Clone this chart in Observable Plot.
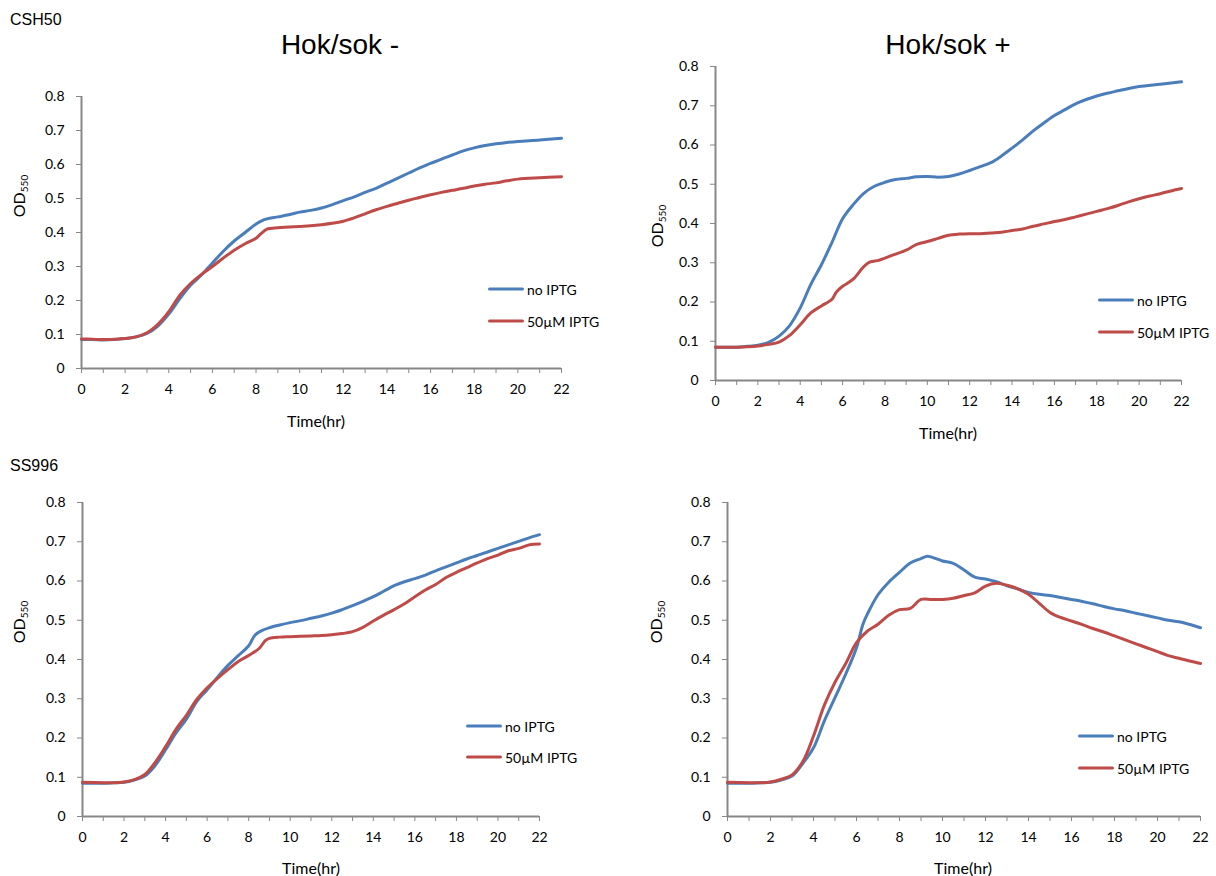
<!DOCTYPE html>
<html>
<head>
<meta charset="utf-8">
<script src="https://cdn.jsdelivr.net/npm/d3@7"></script>
<script src="https://cdn.jsdelivr.net/npm/@observablehq/plot@0.6"></script>
<style>
  body { margin: 0; background: #fff; }
  #fig { position: relative; width: 1216px; height: 876px; overflow: hidden; font-family: Lato, "Open Sans", sans-serif; color: #000; }
  .abs { position: absolute; white-space: nowrap; }
  .title { font-family: "Liberation Sans", Arial, sans-serif; font-size: 28px; transform: translate(-50%, -50%); }
  .strain { font-family: "Liberation Sans", Arial, sans-serif; font-size: 16px; transform: translateY(-50%); }
  .ylab { font-size: 16px; transform: translate(-50%, -50%) rotate(-90deg); }
  .ylab sub { font-size: 10px; vertical-align: -3px; }
  .xlab { font-size: 16px; font-weight: 400; transform: translate(-50%, -50%); }
  .leg { font-size: 14px; transform: translateY(-50%); display: flex; align-items: center; }
  .leg span.sw { display: inline-block; width: 36px; height: 3px; border-radius: 2px; margin-right: 3px; }
  svg { position: absolute; overflow: visible; }
</style>
</head>
<body>
<div id="fig"></div>
<script>
// ---------- data ----------
const seriesNames = ["no IPTG", "50\u00B5M IPTG"];
const seriesColors = ["#4A7EBB", "#BE4B48"];
const xTicks = d3.range(0, 23, 1);
const yTicks = [0, 0.1, 0.2, 0.3, 0.4, 0.5, 0.6, 0.7, 0.8];
const strainLabels = ["CSH50", "SS996"];
const panelTitles = ["Hok/sok -", "Hok/sok +"];

// CSH50, Hok/sok -
const csh50MinusNo = [[0,.085],[0.5,.085],[1,.084],[1.5,.085],[2,.088],[2.5,.093],[3,.103],[3.5,.125],[4,.16],[4.5,.205],[5,.245],[5.5,.275],[6,.31],[6.5,.345],[7,.375],[7.5,.40],[8,.425],[8.3,.436],[8.5,.44],[9,.446],[9.5,.452],[10,.46],[10.5,.465],[11,.472],[11.5,.482],[12,.494],[12.5,.505],[13,.518],[13.5,.53],[14,.545],[14.5,.56],[15,.575],[15.5,.59],[16,.603],[16.5,.616],[17,.628],[17.5,.64],[18,.649],[18.5,.656],[19,.661],[19.5,.665],[20,.668],[21,.672],[22,.677]];
const csh50MinusIptg = [[0,.087],[0.5,.086],[1,.085],[1.5,.086],[2,.088],[2.5,.093],[3,.105],[3.5,.13],[4,.167],[4.5,.215],[5,.25],[5.5,.277],[6,.30],[6.5,.325],[7,.348],[7.5,.367],[8,.383],[8.2,.395],[8.5,.41],[9,.414],[9.5,.416],[10,.418],[10.5,.42],[11,.423],[11.5,.427],[12,.433],[12.5,.443],[13,.455],[13.5,.467],[14,.477],[14.5,.486],[15,.495],[15.5,.503],[16,.511],[16.5,.518],[17,.524],[17.5,.53],[18,.537],[18.5,.542],[19,.546],[19.5,.552],[20,.557],[21,.561],[22,.564]];
// CSH50, Hok/sok +
const csh50PlusNo = [[0,.085],[1,.085],[1.5,.087],[2,.09],[2.5,.097],[3,.113],[3.5,.14],[4,.185],[4.5,.245],[5,.295],[5.5,.352],[6,.412],[6.5,.448],[7,.477],[7.5,.495],[8,.505],[8.5,.512],[9,.515],[9.5,.519],[10,.52],[10.5,.518],[11,.52],[11.5,.526],[12,.535],[12.5,.545],[13,.555],[13.5,.572],[14,.592],[14.5,.613],[15,.636],[15.5,.656],[16,.675],[16.5,.69],[17,.705],[17.5,.716],[18,.725],[18.5,.732],[19,.738],[19.5,.744],[20,.749],[21,.755],[22,.761]];
const csh50PlusIptg = [[0,.085],[1,.085],[1.5,.086],[2,.088],[2.5,.092],[3,.098],[3.5,.115],[4,.142],[4.5,.172],[5,.19],[5.5,.207],[5.7,.225],[6,.24],[6.5,.258],[7,.29],[7.3,.302],[7.7,.306],[8,.312],[8.5,.322],[9,.332],[9.5,.347],[10,.354],[10.5,.362],[11,.37],[11.5,.373],[12,.374],[12.5,.374],[13,.376],[13.5,.378],[14,.382],[14.5,.386],[15,.393],[15.5,.399],[16,.405],[16.5,.41],[17,.417],[17.5,.424],[18,.431],[18.5,.438],[19,.446],[19.5,.455],[20,.463],[20.5,.47],[21,.476],[21.5,.483],[22,.489]];
// SS996, Hok/sok -
const ss996MinusNo = [[0,.085],[1,.085],[1.5,.086],[2,.087],[2.5,.093],[3,.103],[3.5,.13],[4,.17],[4.5,.213],[5,.248],[5.5,.293],[6,.323],[6.5,.355],[7,.385],[7.5,.41],[8,.435],[8.3,.462],[8.6,.473],[9,.481],[9.5,.488],[10,.494],[10.5,.499],[11,.505],[11.5,.511],[12,.518],[12.5,.527],[13,.537],[13.5,.548],[14,.56],[14.5,.574],[15,.588],[15.5,.598],[16,.606],[16.5,.615],[17,.626],[17.5,.636],[18,.646],[18.5,.656],[19,.665],[19.5,.674],[20,.683],[20.5,.692],[21,.701],[21.5,.71],[22,.718]];
const ss996MinusIptg = [[0,.087],[1,.086],[1.5,.086],[2,.088],[2.5,.094],[3,.107],[3.5,.138],[4,.178],[4.5,.222],[5,.258],[5.5,.298],[6,.328],[6.5,.352],[7,.374],[7.5,.395],[8,.41],[8.5,.428],[8.8,.448],[9,.454],[9.5,.457],[10,.458],[10.5,.459],[11,.46],[11.5,.461],[12,.463],[12.5,.466],[13,.471],[13.5,.482],[14,.498],[14.5,.513],[15,.527],[15.5,.542],[16,.56],[16.5,.577],[17,.591],[17.5,.609],[18,.622],[18.5,.634],[19,.646],[19.5,.657],[20,.666],[20.5,.677],[21,.683],[21.5,.692],[22,.694]];
// SS996, Hok/sok +
const ss996PlusNo = [[0,.085],[1,.085],[1.5,.086],[2,.087],[2.5,.093],[3,.103],[3.5,.135],[4,.175],[4.5,.243],[5,.303],[5.5,.363],[6,.43],[6.3,.49],[6.5,.515],[7,.565],[7.5,.597],[8,.622],[8.5,.646],[9,.657],[9.3,.663],[9.7,.657],[10,.651],[10.5,.645],[11,.628],[11.5,.61],[12,.605],[12.5,.598],[13,.588],[13.5,.58],[14,.571],[14.5,.566],[15,.563],[15.5,.558],[16,.553],[16.5,.548],[17,.542],[17.5,.535],[18,.529],[18.5,.524],[19,.518],[19.5,.512],[20,.506],[20.5,.5],[21,.496],[21.5,.489],[22,.481]];
const ss996PlusIptg = [[0,.087],[1,.086],[1.5,.086],[2,.088],[2.5,.095],[3,.106],[3.5,.14],[4,.205],[4.5,.283],[5,.342],[5.5,.39],[6,.443],[6.5,.472],[7,.49],[7.5,.513],[8,.527],[8.5,.53],[9,.553],[9.5,.553],[10,.553],[10.5,.556],[11,.563],[11.5,.57],[12,.587],[12.5,.594],[13,.589],[13.5,.58],[14,.566],[14.5,.543],[15,.52],[15.5,.507],[16,.498],[16.5,.489],[17,.479],[17.5,.47],[18,.46],[18.5,.45],[19,.44],[19.5,.43],[20,.42],[20.5,.41],[21,.403],[21.5,.396],[22,.39]];

// ---------- layout ----------
const panels = [
  { no: csh50MinusNo, iptg: csh50MinusIptg, box: {left: 0,   top: 60,  width: 600, height: 350}, m: {l: 81,  r: 39, t: 36, b: 42},
    ylab: [19, 196], xlab: [316, 420], leg: [488, 289, 321] },
  { no: csh50PlusNo,  iptg: csh50PlusIptg,  box: {left: 620, top: 40,  width: 596, height: 380}, m: {l: 95,  r: 35, t: 26, b: 40},
    ylab: [657, 226], xlab: [948, 432], leg: [1098, 300, 332] },
  { no: ss996MinusNo, iptg: ss996MinusIptg, box: {left: 0,   top: 480, width: 600, height: 380}, m: {l: 82,  r: 61, t: 22, b: 44},
    ylab: [19, 622], xlab: [311, 867], leg: [466, 726, 757] },
  { no: ss996PlusNo,  iptg: ss996PlusIptg,  box: {left: 620, top: 480, width: 596, height: 380}, m: {l: 107, r: 16, t: 22, b: 44},
    ylab: [656, 622], xlab: [963, 867], leg: [1078, 736, 768] }
];
const axisColor = "#878787";
const fig = document.getElementById("fig");

function addText(cls, html, x, y) {
  const d = document.createElement("div");
  d.className = "abs " + cls;
  d.style.left = x + "px";
  d.style.top = y + "px";
  d.innerHTML = html;
  fig.appendChild(d);
  return d;
}

addText("strain", strainLabels[0], 10, 20);
addText("strain", strainLabels[1], 10, 466);
addText("title", panelTitles[0], 340, 45);
addText("title", panelTitles[1], 948, 45);

for (const p of panels) {
  const data = [
    ...p.no.map(([t, v]) => ({t, v, s: seriesNames[0]})),
    ...p.iptg.map(([t, v]) => ({t, v, s: seriesNames[1]}))
  ];
  const svg = Plot.plot({
    width: p.box.width, height: p.box.height,
    marginLeft: p.m.l, marginRight: p.m.r, marginTop: p.m.t, marginBottom: p.m.b,
    style: {fontFamily: "Lato, 'Open Sans', sans-serif", fontSize: "14px", background: "transparent", color: "#000"},
    x: {domain: [0, 22]},
    y: {domain: [0, 0.8]},
    color: {domain: seriesNames, range: seriesColors},
    marks: [
      Plot.axisX({ticks: xTicks, tickFormat: d => d % 2 === 0 ? String(d) : "", tickSize: 5, tickPadding: 11, stroke: axisColor, fill: "#000", label: null}),
      Plot.axisY({ticks: yTicks, tickFormat: d => d === 0 ? "0" : d.toFixed(1), tickSize: 5, tickPadding: 12, stroke: axisColor, fill: "#000", label: null}),
      Plot.ruleX([0], {stroke: axisColor, strokeWidth: 2}),
      Plot.ruleY([0], {stroke: axisColor, strokeWidth: 2}),
      Plot.line(data, {x: "t", y: "v", z: "s", stroke: "s", strokeWidth: 3, curve: "catmull-rom", strokeLinecap: "round"})
    ]
  });
  svg.style.left = p.box.left + "px";
  svg.style.top = p.box.top + "px";
  fig.appendChild(svg);

  addText("ylab", "OD<sub>550</sub>", p.ylab[0], p.ylab[1]);
  addText("xlab", "Time(hr)", p.xlab[0], p.xlab[1]);
  seriesNames.forEach((name, i) => {
    addText("leg", `<span class="sw" style="background:${seriesColors[i]}"></span>${name}`, p.leg[0], p.leg[1 + i]);
  });
}
</script>
</body>
</html>
